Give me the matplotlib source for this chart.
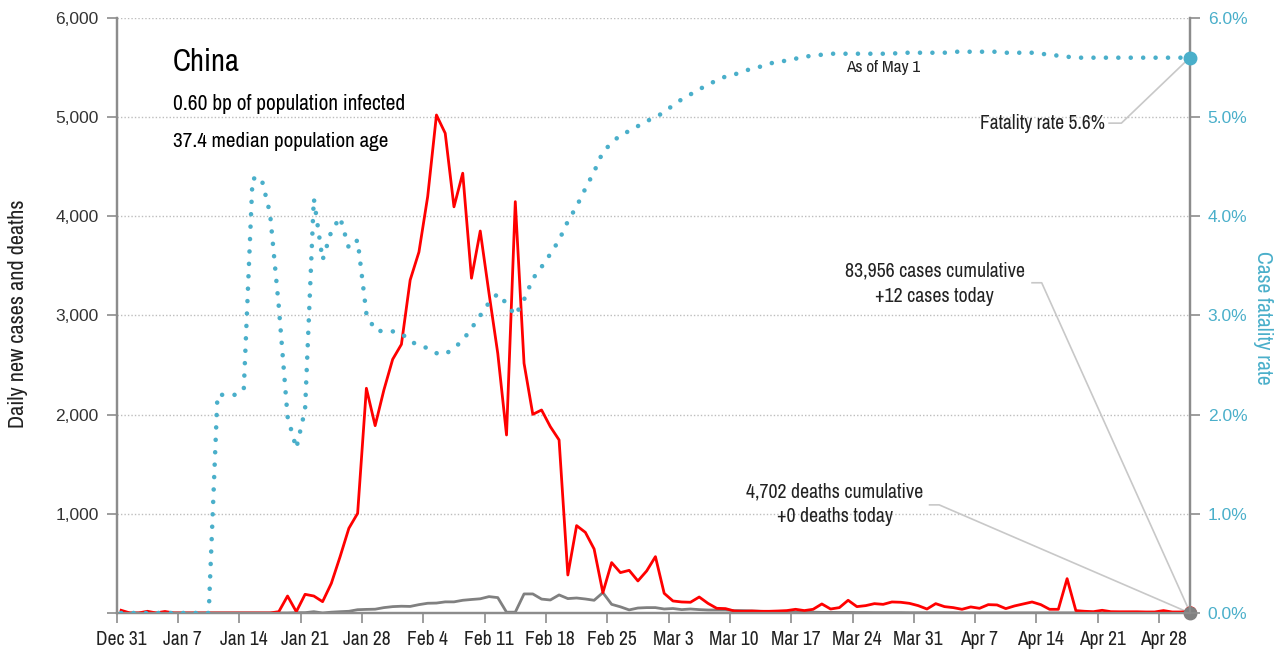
import matplotlib
matplotlib.use("Agg")
import matplotlib.pyplot as plt
from matplotlib import font_manager as fm
import numpy as np

# daily values, day 0 = Dec 31 ... day 122 = May 1
new_cases = [
    27, 0, 0, 17, 0, 15, 0, 0, 0, 0,
    0, 0, 0, 0, 0, 0, 0, 0, 13, 171,
    13, 188, 171, 114, 299, 568, 854, 1005, 2266, 1889,
    2249, 2558, 2709, 3358, 3640, 4200, 5022, 4838, 4096, 4435,
    3376, 3852, 3224, 2618, 1795, 4148, 2518, 2003, 2047, 1879,
    1745, 383, 881, 813, 645, 205, 508, 407, 430, 323,
    424, 568, 198, 121, 111, 108, 161, 97, 47, 44,
    20, 17, 20, 17, 17, 20, 24, 37, 24, 37,
    91, 40, 54, 128, 64, 74, 94, 87, 111, 108,
    97, 74, 40, 94, 64, 54, 37, 61, 47, 84,
    81, 44, 71, 91, 111, 84, 37, 37, 346, 24,
    17, 13, 27, 13, 12, 12, 12, 10, 10, 24,
    10, 10, 12,
]
new_deaths = [
    0, 0, 0, 0, 0, 0, 0, 0, 0, 0,
    0, 0, 0, 0, 0, 0, 0, 0, 0, 0,
    3, 3, 13, 0, 8, 13, 17, 33, 36, 38,
    54, 64, 68, 66, 84, 98, 100, 112, 112, 128,
    136, 143, 165, 155, 8, 8, 192, 192, 140, 131,
    182, 145, 151, 141, 128, 205, 87, 62, 31, 50,
    54, 54, 40, 45, 34, 40, 34, 30, 30, 30,
    24, 24, 20, 17, 14, 12, 10, 10, 8, 8,
    6, 6, 5, 5, 4, 4, 3, 3, 3, 3,
    2, 2, 2, 2, 2, 2, 1, 1, 1, 1,
    1, 1, 1, 1, 1, 1, 1, 1, 1, 1,
    1, 0, 0, 1, 0, 0, 0, 0, 0, 0,
    0, 0, 0,
]
fatality_rate = [
    0, 0, 0, 0, 0, 0, 0, 0, 0, 0,
    0, 2.20, 2.20, 2.20, 2.25, 4.38, 4.39, 4.03, 3.09, 1.98,
    1.66, 2.05, 4.18, 3.56, 3.85, 3.99, 3.68, 3.76, 3.02, 2.85,
    2.84, 2.84, 2.82, 2.74, 2.70, 2.67, 2.62, 2.61, 2.67, 2.75,
    2.87, 3.00, 3.13, 3.22, 3.12, 3.00, 3.16, 3.37, 3.49, 3.62,
    3.76, 3.95, 4.10, 4.28, 4.45, 4.65, 4.74, 4.82, 4.86, 4.91,
    4.96, 5.00, 5.05, 5.12, 5.18, 5.23, 5.28, 5.33, 5.37, 5.41,
    5.43, 5.46, 5.49, 5.51, 5.54, 5.56, 5.57, 5.59, 5.61, 5.62,
    5.63, 5.64, 5.64, 5.64, 5.64, 5.64, 5.64, 5.64, 5.64, 5.65,
    5.65, 5.65, 5.65, 5.65, 5.65, 5.66, 5.66, 5.66, 5.66, 5.66,
    5.66, 5.65, 5.65, 5.65, 5.65, 5.64, 5.63, 5.62, 5.61, 5.60,
    5.60, 5.60, 5.60, 5.60, 5.60, 5.60, 5.60, 5.60, 5.60, 5.60,
    5.60, 5.60, 5.60,
]
week_labels = ["Dec 31", "Jan 7", "Jan 14", "Jan 21", "Jan 28", "Feb 4",
               "Feb 11", "Feb 18", "Feb 25", "Mar 3", "Mar 10", "Mar 17",
               "Mar 24", "Mar 31", "Apr 7", "Apr 14", "Apr 21", "Apr 28"]
left_ticks = [0, 1000, 2000, 3000, 4000, 5000, 6000]
left_labels = ["", "1,000", "2,000", "3,000", "4,000", "5,000", "6,000"]
right_ticks = [0, 1, 2, 3, 4, 5, 6]

RED = "#ff0000"
GREY = "#808080"
TEAL = "#4aafca"
AXIS = "#8c8c8c"
INK = "#222222"


def narrow_font():
    # look for a condensed face; fall back to Roboto (narrower than DejaVu)
    for f in fm.fontManager.ttflist:
        if f.style == "normal" and f.weight in (400, "normal", "regular"):
            if "Narrow" in f.name or "Condensed" in f.name:
                return f.fname, 1.0
    for f in fm.fontManager.ttflist:
        if f.name == "DejaVu Sans" and "ondensed" in str(f.stretch) \
                and f.style == "normal" and f.weight in (400, "normal"):
            return f.fname, 0.9
    return None, 0.86


_narrow_path, SCALE = narrow_font()


def nf(size):
    if _narrow_path:
        return fm.FontProperties(fname=_narrow_path, size=size * SCALE)
    return fm.FontProperties(family=["Roboto", "DejaVu Sans"], size=size * SCALE)


def rf(size):
    return fm.FontProperties(family=["Liberation Sans", "DejaVu Sans"], size=size)


days = np.arange(len(new_cases))
last = days[-1]

fig = plt.figure(figsize=(12.83, 6.53), dpi=100)
ax = fig.add_axes([0.091, 0.0613, 0.8363, 0.9111])
ax2 = ax.twinx()

ax.set_xlim(-0.5, last)
ax.set_ylim(0, 6000)
ax2.set_ylim(0, 6)

# grid
for v in left_ticks[1:]:
    ax.axhline(v, color="#bdbdbd", lw=1, ls=(0, (1, 1.5)), zorder=0)

# series
ax.plot(days, new_deaths, color=GREY, lw=2, zorder=3, solid_joinstyle="round")
ax.plot(days, new_cases, color=RED, lw=2, zorder=4, solid_joinstyle="round")
ax2.plot(days, fatality_rate, color=TEAL, lw=3.3, ls=(0, (0.01, 2.7)),
         dash_capstyle="round", zorder=5)

# end markers
ax.plot([last], [new_cases[-1]], "o", color=RED, ms=8, zorder=6, clip_on=False)
ax.plot([last], [new_deaths[-1]], "o", color=GREY, ms=9, zorder=7, clip_on=False)
ax2.plot([last], [fatality_rate[-1]], "o", color=TEAL, ms=9, zorder=7, clip_on=False)

# spines
for a in (ax, ax2):
    a.spines["top"].set_visible(False)
    for s in ("left", "right", "bottom"):
        a.spines[s].set_color(AXIS)
        a.spines[s].set_linewidth(1.6)

# x axis: tick marks at week boundaries, labels on the day
ax.set_xticks(np.arange(len(week_labels)) * 7)
ax.set_xticklabels(week_labels, color=INK)
for t in ax.get_xticklabels():
    t.set_fontproperties(nf(14))
ax.tick_params(axis="x", which="major", length=0, pad=12)
ax.set_xticks(np.arange(len(week_labels)) * 7 - 0.5, minor=True)
ax.tick_params(axis="x", which="minor", length=7, width=1.2, color=AXIS, direction="out")

ax.set_yticks(left_ticks)
ax.set_yticklabels(left_labels, color="#333333")
for t in ax.get_yticklabels():
    t.set_fontproperties(rf(12.5))
ax.tick_params(axis="y", length=7, width=1.2, color=AXIS, pad=6)

ax2.set_yticks(right_ticks)
ax2.set_yticklabels([f"{v:.1f}%" for v in right_ticks], color=TEAL)
for t in ax2.get_yticklabels():
    t.set_fontproperties(rf(12.5))
ax2.tick_params(axis="y", length=7, width=1.2, color=AXIS, pad=6)

fig.text(0.006, 0.52, "Daily new cases and deaths", fontproperties=nf(16),
         color=INK, rotation=90, va="center", ha="left")
fig.text(0.977, 0.514, "Case fatality rate", fontproperties=nf(15.5),
         color=TEAL, rotation=-90, va="center", ha="left")

# header text
ax.text(5.9, 5560, "China", fontproperties=nf(22), va="center", ha="left")
ax.text(5.9, 5130, "0.60 bp of population infected", fontproperties=nf(15.4),
        va="center", ha="left")
ax.text(5.9, 4750, "37.4 median population age", fontproperties=nf(15.2),
        va="center", ha="left")
ax.text(87, 5500, "As of May 1", fontproperties=nf(12.4), va="center",
        ha="center", color=INK)

# callouts
lead = dict(color="#c8c8c8", lw=1.2, zorder=2, clip_on=False)
ax.text(112.3, 4940, "Fatality rate 5.6%", fontproperties=nf(14),
        va="center", ha="right", color=INK)
ax.plot([112.8, 114.2, last], [4940, 4940, fatality_rate[-1] * 1000], **lead)

ax.text(92.9, 3320, "83,956 cases cumulative\n+12 cases today",
        fontproperties=nf(14.3), va="center", ha="center", linespacing=1.4,
        color=INK)
ax.plot([104.0, 105.1, last], [3330, 3330, new_cases[-1]], **lead)

ax.text(81.5, 1095, "4,702 deaths cumulative\n+0 deaths today",
        fontproperties=nf(14.3), va="center", ha="center", linespacing=1.4,
        color=INK)
ax.plot([92.3, 93.4, last], [1090, 1090, new_deaths[-1]], **lead)

fig.savefig("out.png", dpi=100)
